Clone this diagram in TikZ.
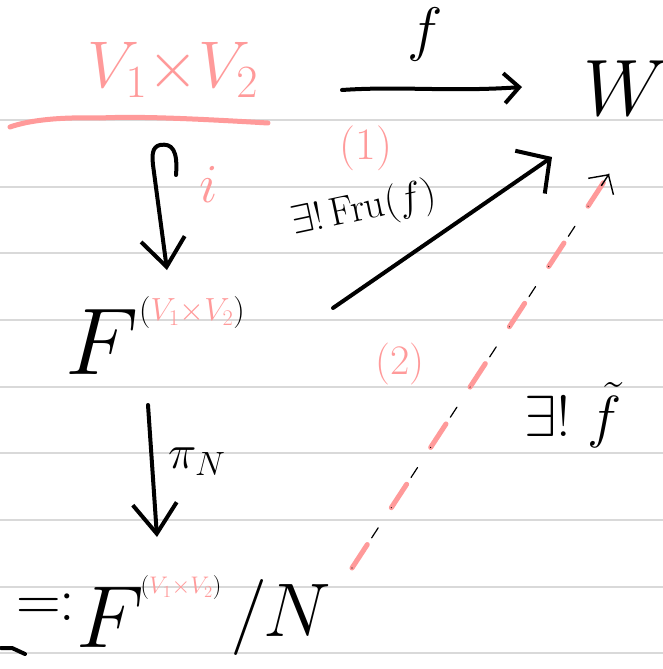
\RequirePackage{fix-cm}
\documentclass[tikz,border=0pt]{standalone}
\usepackage{xcolor}
\usetikzlibrary{arrows.meta,calc}
\definecolor{pk}{HTML}{FF9A9A}
\definecolor{rulegrey}{HTML}{D9D9D9}
\newcommand{\fsz}[1]{\fontsize{#1}{#1}\selectfont}
\tikzset{
  ink/.style={draw=black, line width=4pt, line cap=round, line join=round},
  pinkstroke/.style={draw=pk, line width=5pt, line cap=round, line join=round},
  lbl/.style={inner sep=0pt, outer sep=0pt, anchor=center},
  ruled/.style={draw=rulegrey, line width=2pt},
  bigbarb/.style={-{Straight Barb[length=28pt,width=44pt]}},
}
\begin{document}
\begin{tikzpicture}[x=1pt,y=-1pt]
\fill[white] (0,0) rectangle (663,669);
\useasboundingbox (0,0) rectangle (663,669);
% ruled paper
\foreach \yy in {120,186.7,253.3,320,386.7,453.3,520,586.7,653.3}
  \draw[ruled] (0,\yy) -- (663,\yy);

% top row
\node[lbl, text=pk] (v12) at (173,70) {\fsz{66}$V_1{\times}V_2$};
\draw[pinkstroke] (10,127) .. controls (30,120) and (60,117) .. (100,118)
  .. controls (140,116) and (200,119) .. (268,123);
\node[lbl] (W) at (626,88) {\fsz{80}$W$};
\node[lbl] (f) at (425,35) {\fsz{60}$f$};
\coordinate (fs) at (342,90);
\coordinate (fe) at (522,87);
\draw[ink, -{Straight Barb[length=15pt,width=30pt]}] (fs) .. controls (400,86) and (450,92) .. (fe);

% inclusion arrow
\coordinate (hk) at (176,175);
\coordinate (ie) at (167,270);
\draw[ink, bigbarb] (hk) .. controls (178,150) and (172,143) .. (160,145)
  .. controls (152,147) and (152,155) .. (153,165) -- (ie);
\node[lbl, text=pk] (i) at (209,184) {\fsz{55}$i$};

% middle F
\node[lbl] (F1) at (102,342) {\fsz{95}$F$};
\node[lbl] (s1) at (192,313) {\fsz{32}{\color{black}(}\textcolor{pk}{$V_1{\times}V_2$}{\color{black})}};

% labels (1), (2)
\node[lbl, text=pk] (one) at (366,148) {\fsz{45}(1)};
\node[lbl, text=pk] (two) at (400,364) {\fsz{42}(2)};

% arrow (1)
\coordinate (c1s) at (333,308);
\coordinate (c1e) at (552,157);
\draw[ink, -{Straight Barb[length=24pt,width=52pt]}] (c1s) -- (c1e);
\node[lbl, rotate=12] (fru) at (364,210) {\fsz{40}$\exists!\,$Fru$(f)$};

% quotient arrow
\coordinate (q1) at (148,405);
\coordinate (q2) at (157,537);
\draw[ink, -{Straight Barb[length=30pt,width=44pt]}] (q1) -- (q2);
\node[lbl] (piN) at (197,462) {\fsz{48}$\pi_N$};

% bottom row
\node[lbl] (eqc) at (46,607) {\fsz{62}=\kern-2pt:};
\node[lbl] (F2) at (110,617) {\fsz{88}$F$};
\node[lbl] (s2) at (181,588) {\fsz{24}{\color{black}(}\textcolor{pk}{$V_1{\times}V_2$}{\color{black})}};
\node[lbl] (slN) at (281,617) {\fsz{76}$/N$};
\draw[ink] (1,648) -- (12,648) -- (25,654);

% dashed arrow (2)
\coordinate (d1) at (352,568);
\coordinate (d2) at (609,174);
\draw[pinkstroke, line width=5pt, dash pattern=on 28pt off 44pt] (d1) -- (d2);
\draw[draw=black, line width=1.2pt, line cap=round, dash pattern=on 0pt off 36pt on 12pt off 24pt] (d1) -- (d2);
\draw[draw=black, line width=1.4pt, -{Straight Barb[length=14pt,width=30pt]}] ($(d1)!0.97!(d2)$) -- (d2);
\node[lbl] (ftl) at (573,415) {\fsz{58}$\exists!\;\tilde f$};
\end{tikzpicture}
\end{document}
